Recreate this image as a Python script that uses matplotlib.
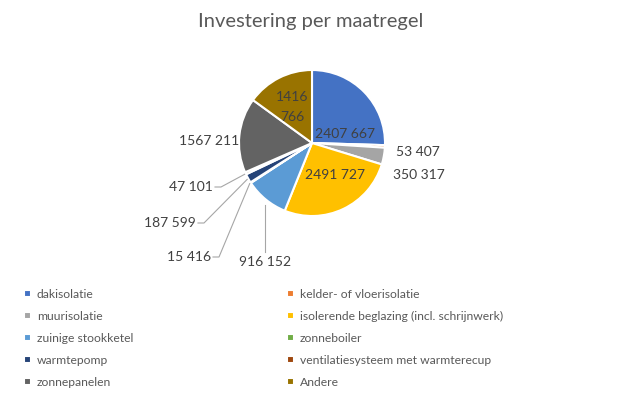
import numpy as np
import matplotlib
matplotlib.use("Agg")
import matplotlib.pyplot as plt

# investment per measure (EUR)
categories = [
    "dakisolatie",
    "kelder- of vloerisolatie",
    "muurisolatie",
    "isolerende beglazing (incl. schrijnwerk)",
    "zuinige stookketel",
    "zonneboiler",
    "warmtepomp",
    "ventilatiesysteem met warmterecup",
    "zonnepanelen",
    "Andere",
]
values = [2407667, 53407, 350317, 2491727, 916152, 15416, 187599, 47101, 1567211, 1416766]
colors = ["#4472C4", "#ED7D31", "#A5A5A5", "#FFC000", "#5B9BD5",
          "#70AD47", "#264478", "#9E480E", "#636363", "#997300"]

TEXT = "#404040"
plt.rcParams["font.family"] = ["Lato", "DejaVu Sans"]


def fmt(v):
    # excel number format "# ##0" only splits off the last group
    if v >= 1000:
        return f"{v // 1000} {v % 1000:03d}"
    return str(v)


fig = plt.figure(figsize=(6.23, 3.97), dpi=100)
ax = fig.add_axes([0, 0, 1, 1])

cx, cy, r = 312, 143, 73
wedges, _ = ax.pie(values, colors=colors, startangle=90, counterclock=False,
                   center=(cx, cy), radius=r, frame=True,
                   wedgeprops=dict(edgecolor="white", linewidth=1.5))
# y axis is inverted (pixel coords), so mirror the wedges back
flip = matplotlib.transforms.Affine2D().scale(1, -1).translate(0, 2 * cy)
for w in wedges:
    w.set_transform(flip + ax.transData)
ax.set_xlim(0, 623)
ax.set_ylim(397, 0)
ax.set_aspect("equal")
ax.axis("off")

# label placement: ("in", x, y) inside a wedge, ("out", x, y, ha, leader) outside
placement = {
    0: ("in", cx + 33, cy - 9),
    1: ("out", 396, 152, "left", None),
    2: ("out", 393, 175, "left", None),
    3: ("in", cx + 23, cy + 32),
    4: ("out", 265, 262, "center", "v"),
    5: ("out", 211, 257, "right", "h"),
    6: ("out", 196, 223, "right", "h"),
    7: ("out", 213, 187, "right", "h"),
    8: ("out", 239, 141, "right", None),
    9: ("in", cx - 20, cy - 36),
}

total = sum(values)
start = 0.0
for i, v in enumerate(values):
    mid = start + v / total / 2
    start += v / total
    ang = np.deg2rad(90 - 360 * mid)
    ex, ey = cx + r * np.cos(ang), cy - r * np.sin(ang)
    label = fmt(v)
    p = placement[i]
    if p[0] == "in":
        if categories[i] == "Andere":
            label = label.replace(" ", "\n")
        ax.text(p[1], p[2], label, ha="center", va="center", fontsize=10,
                color=TEXT, linespacing=1.8)
    else:
        _, tx, ty, ha, leader = p
        ax.text(tx, ty, label, ha=ha, va="center", fontsize=10, color=TEXT)
        if leader == "h":
            ax.plot([tx + 2, tx + 8, ex - 1], [ty, ty, ey + 1],
                    color="#A6A6A6", lw=0.8)
        elif leader == "v":
            ax.plot([ex - 1, ex - 1], [ty - 10, ey + 6], color="#A6A6A6", lw=0.8)

ax.text(311, 22, "Investering per maatregel", ha="center", va="center",
        fontsize=14.5, color="#595959")

# legend, two columns filled row by row
leg_kw = dict(frameon=False, fontsize=8.7, labelcolor="#595959",
              handlelength=0.55, handleheight=0.55, handletextpad=0.5,
              labelspacing=0.9, borderaxespad=0, borderpad=0)
left = ax.legend([wedges[i] for i in range(0, 10, 2)],
                 [categories[i] for i in range(0, 10, 2)],
                 loc="upper left", bbox_to_anchor=(24 / 623, 1 - 289 / 397), **leg_kw)
ax.add_artist(left)
ax.legend([wedges[i] for i in range(1, 10, 2)],
          [categories[i] for i in range(1, 10, 2)],
          loc="upper left", bbox_to_anchor=(287 / 623, 1 - 289 / 397), **leg_kw)

fig.savefig("out.png", dpi=100)
